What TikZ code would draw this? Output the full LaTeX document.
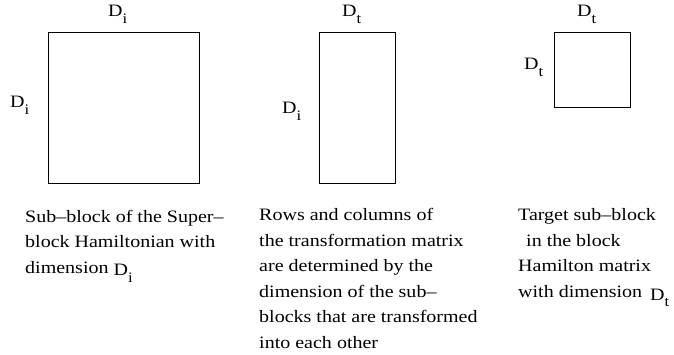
\documentclass[tikz,border=0pt]{standalone}
\usepackage{fontspec}
\setmainfont[FakeStretch=1.15]{Liberation Serif}
\newcommand\Dsb[1]{D\raisebox{-6.5pt}{\fontsize{14.5}{14.5}\selectfont #1}}
\begin{document}
\begin{tikzpicture}[x=1pt,y=-1pt,
  blk/.style={draw,line width=0.9pt},
  lbl/.style={anchor=base west,inner sep=0pt,font=\fontsize{17.4}{20}\selectfont},
  captxt/.style={anchor=base west,inner sep=0pt,align=left,font=\fontsize{17.4}{25.5}\selectfont}]
\useasboundingbox (0,0) rectangle (674,355);
% boxes
\draw[blk] (48,32) rectangle (199,183);
\draw[blk] (319.5,32) rectangle (395.5,183);
\draw[blk] (554,32) rectangle (630,107.5);
% labels
\node[lbl] (l1t) at (108,17) {\Dsb{i}};
\node[lbl] (l1l) at (10,108) {\Dsb{i}};
\node[lbl] (l2t) at (342,17) {\Dsb{t}};
\node[lbl] (l2l) at (282,114) {\Dsb{i}};
\node[lbl] (l3t) at (577,17) {\Dsb{t}};
\node[lbl] (l3l) at (524,70) {\Dsb{t}};
% captions (base = last line)
\node[captxt] (c1) at (25,273) {Sub–block of the Super–\\block Hamiltonian with\\dimension \raisebox{-2.5pt}{\Dsb{i}}};
\node[captxt] (c2) at (259,348) {Rows and columns of\\the transformation matrix\\are determined by the\\dimension of the sub–\\blocks that are transformed\\into each other};
\node[captxt] (c3) at (518,297) {Target sub–block\\\hspace*{8pt}in the block\\Hamilton matrix\\with dimension\hspace*{8pt}\raisebox{-3pt}{\Dsb{t}}};
\end{tikzpicture}
\end{document}
